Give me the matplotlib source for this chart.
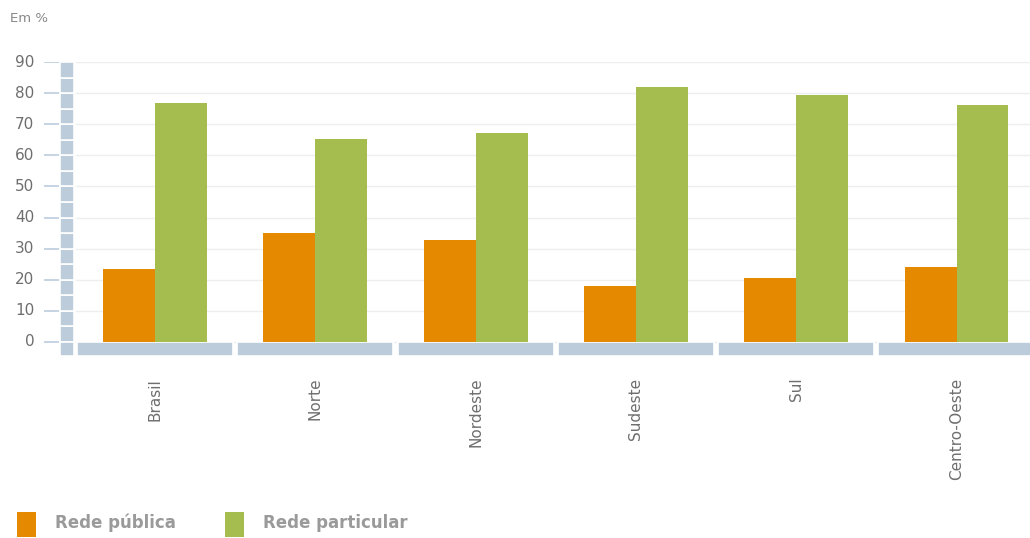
import matplotlib.pyplot as plt
from matplotlib.patches import Rectangle

# data (values in %)
categories = ['Brasil', 'Norte', 'Nordeste', 'Sudeste', 'Sul', 'Centro-Oeste']
rede_publica = [23.5, 35.0, 32.8, 18.0, 20.6, 24.1]
rede_particular = [76.8, 65.3, 67.2, 82.0, 79.4, 76.2]
yticks = [0, 10, 20, 30, 40, 50, 60, 70, 80, 90]

orange = '#E58A00'
green = '#A5BD4F'
wall = '#BCCCDB'
txt = '#6E6E6E'

plt.rcParams['font.family'] = ['DejaVu Sans']

fig = plt.figure(figsize=(10.30, 5.38), dpi=100)
# axes spans pixel x 44..1030, y 62..356
ax = fig.add_axes([44 / 1030, (538 - 356) / 538, (1030 - 44) / 1030, (356 - 62) / 538])
px = 160.3  # pixels per category
ax.set_xlim((44 - 155) / px, (1030 - 155) / px)
ax.set_ylim(-4.5, 90)
ax.axis('off')

x_left = ax.get_xlim()[0]
wall_l, wall_r = (60 - 155) / px, (74 - 155) / px
floor_l = (76 - 155) / px

# horizontal gridlines and tick marks
for t in yticks:
    ax.plot([floor_l, ax.get_xlim()[1]], [t, t], color='#EEEEEE', lw=1, zorder=0)
    ax.plot([x_left, wall_l], [t, t], color=wall, lw=1.2, zorder=1)
    ax.text(x_left - 0.06, t, str(t), ha='right', va='center', fontsize=11, color=txt)

# segmented wall on the left
for y0 in range(0, 90, 5):
    ax.add_patch(Rectangle((wall_l, y0), wall_r - wall_l, 5, facecolor=wall,
                           edgecolor='white', lw=1.2, zorder=2))
ax.add_patch(Rectangle((wall_l, -4.5), wall_r - wall_l, 4.5, facecolor=wall,
                       edgecolor='white', lw=1.2, zorder=2))

# segmented floor under each category
half = 0.487
for i in range(len(categories)):
    ax.add_patch(Rectangle((i - half, -4.5), 2 * half, 4.5, facecolor=wall,
                           edgecolor='white', lw=1.2, zorder=2))

# bars
bw = 0.324
xs = list(range(len(categories)))
ax.bar([x - bw / 2 for x in xs], rede_publica, width=bw, color=orange, zorder=3)
ax.bar([x + bw / 2 for x in xs], rede_particular, width=bw, color=green, zorder=3)

# category labels
for i, c in enumerate(categories):
    ax.text(i, -11.5, c, rotation=90, ha='center', va='top', fontsize=11, color=txt)

fig.text(10 / 1030, 1 - 18 / 538, 'Em %', ha='left', va='center', fontsize=9.5, color='#888888')

# legend
fig.patches.append(Rectangle((17 / 1030, 1 - 537 / 538), 19 / 1030, 25 / 538,
                             transform=fig.transFigure, facecolor=orange, edgecolor='none'))
fig.text(55 / 1030, 1 - 523 / 538, 'Rede pública', ha='left', va='center', fontsize=12,
         color='#9A9A9A', fontweight='bold')
fig.patches.append(Rectangle((225 / 1030, 1 - 537 / 538), 19 / 1030, 25 / 538,
                             transform=fig.transFigure, facecolor=green, edgecolor='none'))
fig.text(263 / 1030, 1 - 523 / 538, 'Rede particular', ha='left', va='center', fontsize=12,
         color='#9A9A9A', fontweight='bold')

fig.savefig('out.png', dpi=100)
